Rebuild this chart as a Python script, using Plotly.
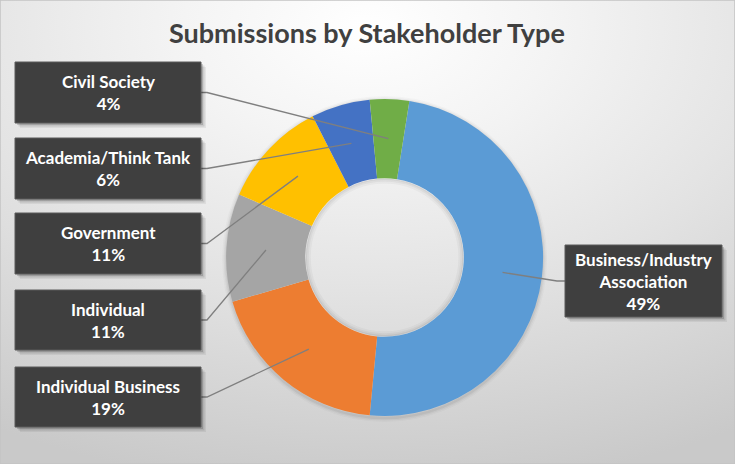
import math, base64
import plotly.graph_objects as go

# ---- data ----
labels = ["Business/Industry Association", "Individual Business", "Individual",
          "Government", "Academia/Think Tank", "Civil Society"]
label_text = ["Business/Industry<br>Association", "Individual Business", "Individual",
              "Government", "Academia/Think Tank", "Civil Society"]
values = [49, 19, 11, 11, 6, 4]
colors = ["#5B9BD5", "#ED7D31", "#A5A5A5", "#FFC000", "#4472C4", "#70AD47"]
title = "Submissions by Stakeholder Type"

W, H = 735, 464
CX, CY, R = 384.6, 257.5, 158.5
HOLE = 0.5
ROT = 9

def px(x):
    return x / W

def py(y):
    return 1 - y / H

svg = f'''<svg xmlns="http://www.w3.org/2000/svg" width="{W}" height="{H}" viewBox="0 0 {W} {H}" preserveAspectRatio="none">
<defs><radialGradient id="g" cx="50%" cy="6%" r="100%" fx="50%" fy="6%">
<stop offset="0%" stop-color="#ffffff"/><stop offset="25%" stop-color="#f4f4f4"/>
<stop offset="55%" stop-color="#e4e4e4"/><stop offset="100%" stop-color="#c9c9c9"/>
</radialGradient></defs><rect width="{W}" height="{H}" fill="url(#g)"/></svg>'''
src = "data:image/svg+xml;base64," + base64.b64encode(svg.encode()).decode()

fig = go.Figure()
fig.add_trace(go.Pie(
    labels=labels, values=values, hole=HOLE, sort=False, direction="clockwise",
    rotation=ROT, marker=dict(colors=colors, line=dict(width=0)),
    textinfo="none", hoverinfo="label+percent", showlegend=False,
    domain=dict(x=[px(CX - R), px(CX + R)], y=[py(CY + R), py(CY - R)]),
))

# label boxes: (left, top, right, bottom) in pixels
boxes = {
    "Business/Industry Association": (565, 245, 722, 317),
    "Individual Business": (15, 367, 201, 427),
    "Individual": (15, 290, 201, 350),
    "Government": (15, 213, 201, 274),
    "Academia/Think Tank": (15, 138, 201, 199),
    "Civil Society": (15, 62, 201, 123),
}

shapes = []
annotations = []
total = sum(values)
cum = 0
rmid = R * (1 + HOLE) / 2
for lab, txt, v in zip(labels, label_text, values):
    mid = math.radians(ROT + 360 * (cum + v / 2) / total)
    cum += v
    sx = CX + rmid * math.sin(mid)
    sy = CY - rmid * math.cos(mid)
    l, t, r_, b = boxes[lab]
    bcy = (t + b) / 2
    pct = round(100 * v / total)
    if l > CX:
        ex, edge = l - 8, l
    else:
        ex, edge = r_ + 6, r_
    shapes.append(dict(type="path", xref="paper", yref="paper",
                       path=f"M {px(sx)},{py(sy)} L {px(ex)},{py(bcy)} L {px(edge)},{py(bcy)}",
                       line=dict(color="#7f7f7f", width=1.3), layer="above"))
    for off, op in ((5, 0.06), (3.5, 0.10), (2, 0.16)):
        shapes.append(dict(type="rect", xref="paper", yref="paper",
                           x0=px(l + off), x1=px(r_ + off), y0=py(b + off), y1=py(t + off),
                           fillcolor=f"rgba(0,0,0,{op})", line=dict(width=0), layer="above"))
    shapes.append(dict(type="rect", xref="paper", yref="paper",
                       x0=px(l), x1=px(r_), y0=py(b), y1=py(t),
                       fillcolor="#3f3f3f", line=dict(color="#5a5a5a", width=1), layer="above"))
    annotations.append(dict(xref="paper", yref="paper", x=px((l + r_) / 2), y=py(bcy),
                            text=f"<b>{txt}<br>{pct}%</b>", showarrow=False,
                            font=dict(family="Lato", size=17, color="#ffffff"),
                            xanchor="center", yanchor="middle", align="center"))

# donut soft outer shadow
for w_, op in ((8, 0.025), (5, 0.035), (2.5, 0.05)):
    shapes.insert(0, dict(type="circle", xref="paper", yref="paper",
                          x0=px(CX - R), x1=px(CX + R), y0=py(CY + R + 2), y1=py(CY - R + 1),
                          line=dict(color=f"rgba(0,0,0,{op})", width=w_), layer="below"))
# inner shadow inside the hole
rh = R * HOLE
for d, w_, op in ((3, 5, 0.03), (2, 3, 0.04), (1, 1.5, 0.05)):
    shapes.insert(0, dict(type="circle", xref="paper", yref="paper",
                          x0=px(CX - rh + d), x1=px(CX + rh - d), y0=py(CY + rh - d), y1=py(CY - rh + d),
                          line=dict(color=f"rgba(0,0,0,{op})", width=w_), layer="below"))
shapes.append(dict(type="rect", xref="paper", yref="paper", x0=0, x1=1, y0=0, y1=1,
                   line=dict(color="#c4c4c4", width=1.5), layer="above"))

annotations.append(dict(xref="paper", yref="paper", x=px(367), y=py(33),
                        text=f"<b>{title}</b>", showarrow=False,
                        font=dict(family="Lato", size=27, color="#404040"),
                        xanchor="center", yanchor="middle"))

fig.update_layout(
    width=W, height=H, margin=dict(l=0, r=0, t=0, b=0),
    paper_bgcolor="#e2e2e2", plot_bgcolor="rgba(0,0,0,0)",
    images=[dict(source=src, xref="paper", yref="paper", x=0, y=1, sizex=1, sizey=1,
                 sizing="stretch", layer="below", xanchor="left", yanchor="top")],
    shapes=shapes, annotations=annotations,
)
fig.write_html("out.html", config={"displayModeBar": False},
               post_script="document.body.style.margin='0';document.body.style.overflow='hidden';")
